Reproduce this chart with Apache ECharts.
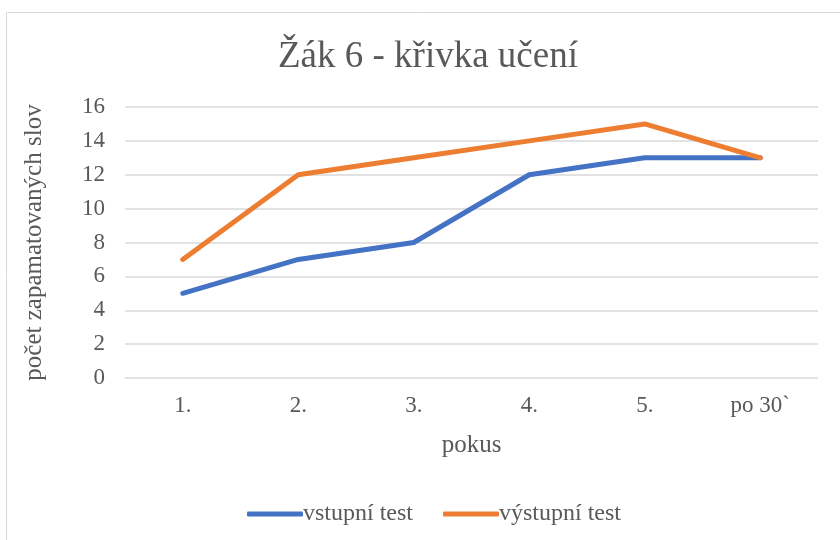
<!DOCTYPE html>
<html>
<head>
<meta charset="utf-8">
<script src="https://cdn.jsdelivr.net/npm/echarts@6/dist/echarts.min.js"></script>
<style>html,body{margin:0;padding:0;background:#fff}#c{width:840px;height:540px}</style>
</head>
<body>
<div id="c"></div>
<script>
var categories = ['1.', '2.', '3.', '4.', '5.', 'po 30`'];
var vstupni = [5, 7, 8, 12, 13, 13];
var vystupni = [7, 12, 13, 14, 15, 13];
var seriesNames = ['vstupní test', 'výstupní test'];
var titleText = 'Žák 6 - křivka učení';
var yName = 'počet zapamatovaných slov';
var xName = 'pokus';

var font = '"Liberation Serif", "Times New Roman", serif';
var chart = echarts.init(document.getElementById('c'));
chart.setOption({
  animation: false,
  graphic: [{
    type: 'rect', shape: {x: 6.5, y: 12.5, width: 900, height: 600},
    style: {fill: 'none', stroke: '#d9d9d9', lineWidth: 1}, silent: true
  }],
  title: {
    text: titleText, left: 423, textAlign: 'center', top: 34,
    textStyle: {fontFamily: font, fontSize: 37, fontWeight: 'normal', color: '#595959'}
  },
  grid: {left: 125, right: 22, top: 107, bottom: 162},
  legend: {
    left: 242, top: 497, itemWidth: 56, itemHeight: 5, itemGap: 30,
    icon: 'roundRect',
    textStyle: {fontFamily: font, fontSize: 24, color: '#595959', padding: [0,0,0,-5]},
    data: seriesNames
  },
  xAxis: {
    type: 'category', data: categories, boundaryGap: true,
    axisLine: {show: false}, axisTick: {show: false},
    axisLabel: {fontFamily: font, fontSize: 23, color: '#595959', margin: 16},
    name: xName, nameLocation: 'middle', nameGap: 55,
    nameTextStyle: {fontFamily: font, fontSize: 25, color: '#595959'}
  },
  yAxis: {
    type: 'value', min: 0, max: 16, interval: 2,
    axisLine: {show: false}, axisTick: {show: false},
    axisLabel: {fontFamily: font, fontSize: 23, color: '#595959', margin: 20},
    splitLine: {lineStyle: {color: '#d9d9d9', width: 1.5}},
    name: yName, nameLocation: 'middle', nameGap: 78,
    nameTextStyle: {fontFamily: font, fontSize: 25, color: '#595959'}
  },
  series: [
    {name: seriesNames[0], type: 'line', data: vstupni, symbol: 'none',
     lineStyle: {color: '#4472C4', width: 5, cap: 'round', join: 'round'}, itemStyle: {color: '#4472C4'}},
    {name: seriesNames[1], type: 'line', data: vystupni, symbol: 'none',
     lineStyle: {color: '#ED7D31', width: 5, cap: 'round', join: 'round'}, itemStyle: {color: '#ED7D31'}}
  ]
});
</script>
</body>
</html>
